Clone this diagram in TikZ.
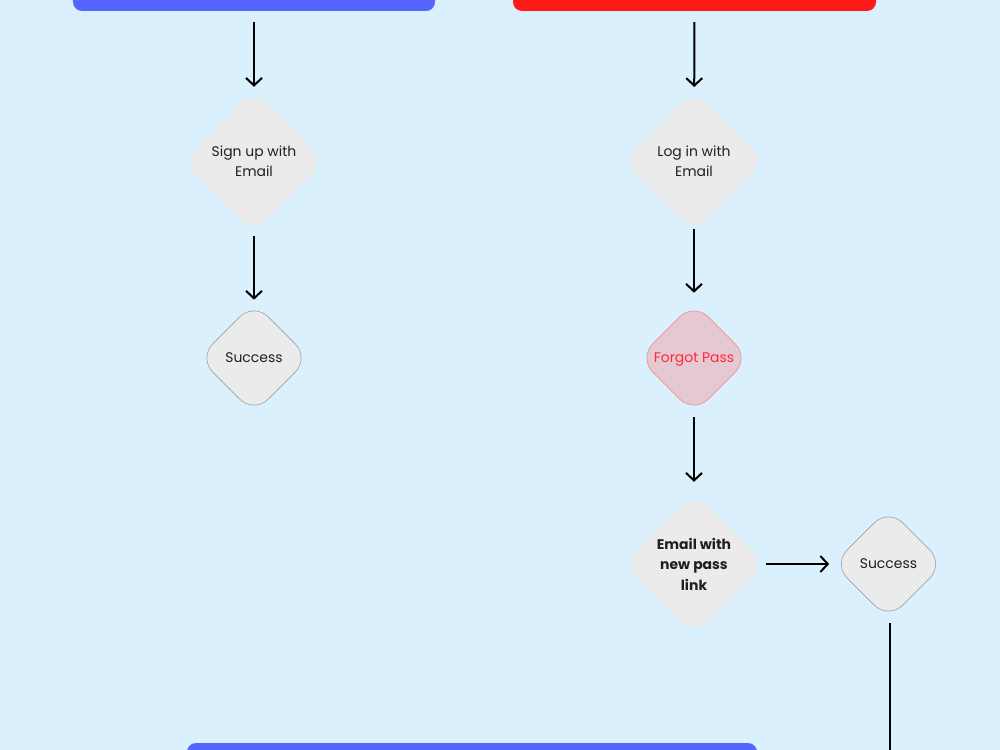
\documentclass[tikz,border=0pt]{standalone}
\usepackage{fontspec}
\setmainfont{Poppins}
\usetikzlibrary{arrows.meta,shapes.geometric}
\definecolor{bghell}{HTML}{DAF0FC}
\definecolor{blaubalken}{HTML}{5566FF}
\definecolor{rotbalken}{HTML}{FF1A1A}
\definecolor{rautegrau}{HTML}{EBEBEB}
\definecolor{randgrau}{HTML}{98A2AC}
\definecolor{rosafill}{HTML}{E6C8D2}
\definecolor{rosarand}{HTML}{EE8C98}
\definecolor{fehlerrot}{HTML}{FF2A36}

\begin{document}
\begin{tikzpicture}[yscale=-1,x=1bp,y=1bp,
  raute/.style={diamond,aspect=1,inner sep=0pt,rounded corners=20bp,
    fill=rautegrau,align=center,text=black!88,
    font=\fontsize{14}{20.5}\selectfont},
  gross/.style={raute,minimum width=143bp,minimum height=143bp},
  klein/.style={raute,minimum width=111bp,minimum height=111bp,
    draw=randgrau,line width=0.6bp,text depth=0pt},
  balken/.style={rectangle,rounded corners=9bp,minimum height=41bp},
  pfeil/.style={line width=2bp,-{Straight Barb[length=7.5bp,width=16bp]}}]

  % --- Rahmen und Hintergrund ---
  \clip (0,0) rectangle (1000,750);
  \fill[bghell] (0,0) rectangle (1000,750);

  % --- Balken oben und unten (ragen aus dem Bild) ---
  \node[balken,fill=blaubalken,minimum width=362bp] (signupbar) at (254,-9.5) {};
  \node[balken,fill=rotbalken,minimum width=363bp] (loginbar) at (694.5,-9.5) {};
  \node[balken,fill=blaubalken,minimum width=570bp,minimum height=47bp] (bottombar) at (472,766.5) {};

  % --- linker Zweig: Registrierung ---
  \node[gross] (signup) at (254,161) {Sign up with\\Email};
  \node[klein] (success1) at (254,358) {Success};

  % --- rechter Zweig: Anmeldung ---
  \node[gross] (login) at (694,161) {Log in with\\Email};
  \node[klein,fill=rosafill,draw=rosarand,text=fehlerrot] (forgot) at (694,358) {Forgot Pass};
  \node[gross,font=\fontsize{14}{20.5}\selectfont\bfseries] (emaillink) at (694,564) {Email with\\new pass\\link};
  \node[klein] (success2) at (888.5,564) {Success};
  \coordinate (ausgang) at (889.5,760);

  % --- Verbindungen ---
  \draw[pfeil,shorten <=11bp,shorten >=2.5bp] (signupbar) -- (signup);
  \draw[pfeil,shorten <=3.5bp,shorten >=2.5bp] (signup) -- (success1);

  \draw[pfeil,shorten <=11bp,shorten >=2.5bp] (loginbar) -- (login);
  \draw[pfeil,shorten <=-3.5bp,shorten >=9.5bp] (login) -- (forgot);
  \draw[pfeil,shorten <=3.5bp,shorten >=10.5bp] (forgot) -- (emaillink);
  \draw[pfeil,shorten >=3.5bp] (emaillink) -- (success2);
  \draw[line width=2bp,shorten <=3.5bp] (success2.south -| ausgang) -- (ausgang);

\end{tikzpicture}
\end{document}
